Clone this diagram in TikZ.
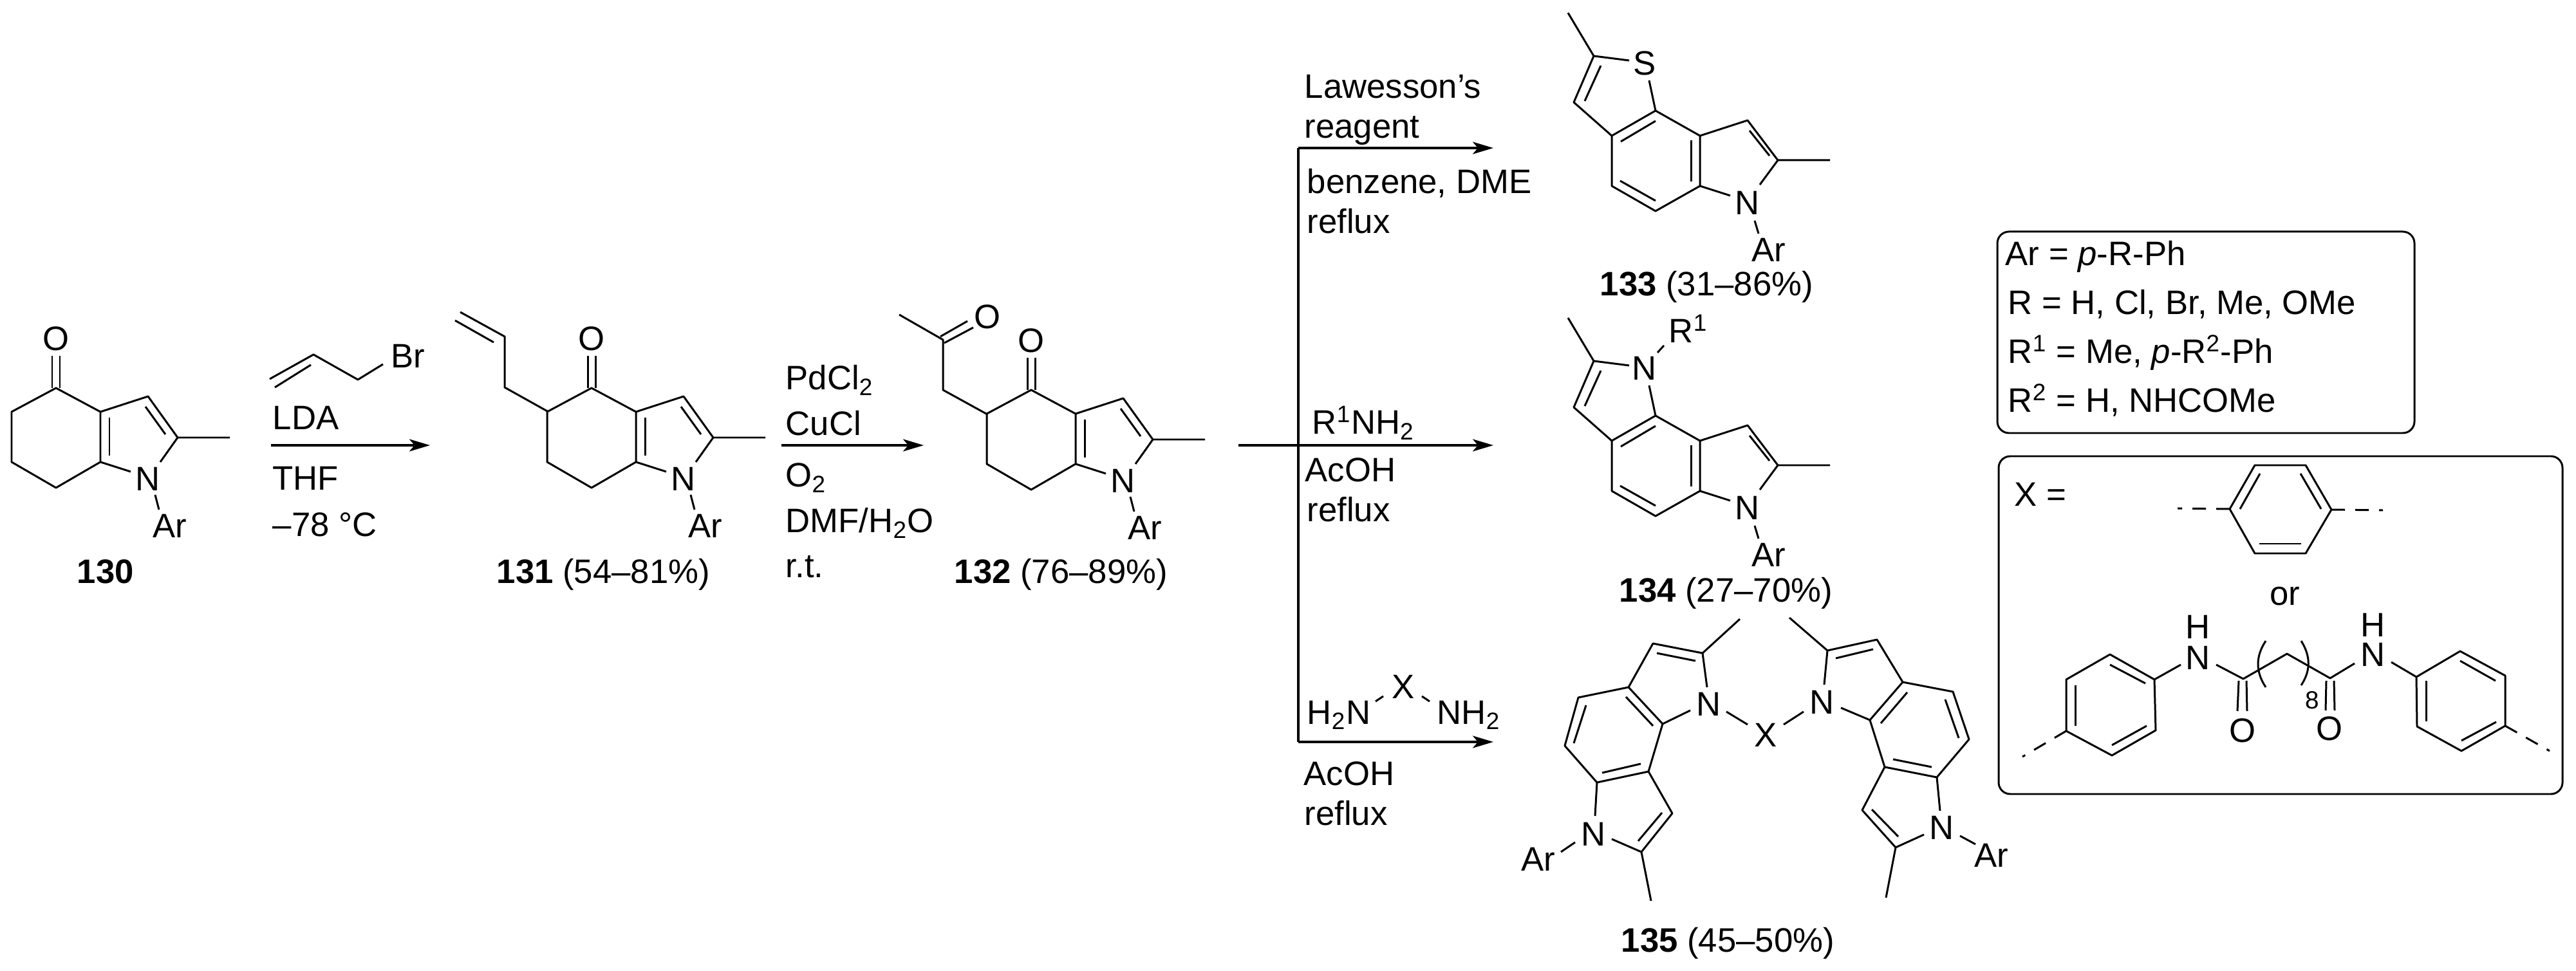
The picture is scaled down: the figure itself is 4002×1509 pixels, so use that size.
\documentclass[tikz,border=0pt]{standalone}
\usepackage{fontspec}
\setmainfont{Liberation Sans}
\usetikzlibrary{arrows.meta}
\tikzset{
  bond/.style={line width=0.85pt, line join=round},
  stub/.style={bond, dashed, dash pattern=on 2.1mm off 1.6mm},
  rxn/.style={line width=0.9pt, -{Stealth[length=3.2mm, width=1.9mm, inset=0.8mm]}},
  panel/.style={line width=0.85pt, rounded corners=1.8mm},
  atom/.style={inner sep=0pt, font=\fontsize{15}{18}\selectfont},
  txt/.style={atom, anchor=base west},
  small/.style={inner sep=0pt, font=\fontsize{11}{13}\selectfont}
}
\begin{document}
\begin{tikzpicture}[x=0.1mm, y=-0.1mm]
\useasboundingbox (0,0) rectangle (4002,1509);
% Fused ketone core of 130, 131, 132
\foreach \dx/\dy/\nm in {0/0/a, 832/0/b, 1515/3/c} {
  \begin{scope}[shift={(\dx,\dy)}]
    \draw[bond] (18,640) -- (87,603) -- (156,640) -- (156,718) -- (87,758) -- (18,718) -- cycle;
    \draw[bond] (156,640) -- (230,616) -- (276,680) -- (357,680);
    \draw[bond] (276,680) -- (249,718);
    \draw[bond] (156,718) -- (203,733);
    \draw[bond] (226,632) -- (257,675);
    \draw[bond] (170,649) -- (170,708);
    \draw[bond] (81,603) -- (81,553);
    \draw[bond] (93,603) -- (93,553);
    \draw[bond] (241,769) -- (247,792);
    \node[atom] (O\nm) at (87,526) {O};
    \node[atom] (N\nm) at (230,744) {N};
    \node[atom] (Ar\nm) at (264,817) {Ar};
  \end{scope}
}
% Allyl side chain on 131
\draw[bond] (852,640) -- (784,602) -- (784,523) -- (715,485);
\draw[bond] (707,498) -- (767,532);
% Acetonyl side chain on 132
\draw[bond] (1534,644) -- (1465,606) -- (1465,528) -- (1397,489);
\draw[bond] (1461,523) -- (1503,499);
\draw[bond] (1467,533) -- (1512,509);
\node[atom] (Oket) at (1534,492) {O};
% Allyl bromide
\draw[bond] (419,589) -- (487,551) -- (556,590) -- (595,566);
\draw[bond] (427,602) -- (483,567);
\node[atom] (Br) at (634,553) {Br};
% Thiophene and pyrrole annulated products 133, 134
\foreach \dy/\nm/\het in {0/d/S, 474/e/N} {
  \begin{scope}[shift={(0,\dy)}]
    \draw[bond] (2436,20) -- (2476,87) -- (2531,94);
    \draw[bond] (2476,87) -- (2445,159) -- (2504,211);
    \draw[bond] (2562,125) -- (2572,172);
    \draw[bond] (2504,211) -- (2572,172) -- (2641,211) -- (2641,289) -- (2572,328) -- (2504,289) -- cycle;
    \draw[bond] (2641,211) -- (2715,187) -- (2762,249) -- (2843,249);
    \draw[bond] (2762,249) -- (2734,287);
    \draw[bond] (2641,289) -- (2688,304);
    \draw[bond] (2726,343) -- (2732,363);
    \draw[bond] (2487,102) -- (2462,157);
    \draw[bond] (2572,188) -- (2518,220);
    \draw[bond] (2627,218) -- (2627,282);
    \draw[bond] (2517,281) -- (2572,312);
    \draw[bond] (2718,203) -- (2749,242);
    \node[atom] (Het\nm) at (2555,98) {\het};
    \node[atom] (N\nm) at (2715,315) {N};
    \node[atom] (Ar\nm) at (2748,388) {Ar};
  \end{scope}
}
\draw[bond] (2575,548) -- (2585,537);
\node[txt] (Rone) at (2592,533) {R\textsuperscript{1}};
% Bis product 135, left half
\draw[bond] (2703,962) -- (2645,1015) -- (2568,1000) -- (2530,1068) -- (2452,1084) -- (2431,1159) -- (2481,1216) -- (2561,1199) -- (2583,1125) -- (2530,1068);
\draw[bond] (2645,1015) -- (2652,1068);
\draw[bond] (2583,1125) -- (2626,1104);
\draw[bond] (2561,1199) -- (2598,1264) -- (2550,1324) -- (2504,1304);
\draw[bond] (2481,1216) -- (2478,1268);
\draw[bond] (2550,1324) -- (2565,1400);
\draw[bond] (2447,1309) -- (2425,1324);
\draw[bond] (2574,1015) -- (2634,1027);
\draw[bond] (2526,1083) -- (2568,1128);
\draw[bond] (2464,1096) -- (2445,1155);
\draw[bond] (2489,1201) -- (2549,1187);
\draw[bond] (2582,1263) -- (2545,1307);
\node[atom] (Nl) at (2655,1094) {N};
\node[atom] (Nll) at (2476,1296) {N};
\node[atom] (Arl) at (2390,1335) {Ar};
% Bis product 135, right half
\draw[bond] (2780,960) -- (2839,1011) -- (2916,994) -- (2956,1060) -- (3034,1075) -- (3059,1149) -- (3009,1208) -- (2928,1192) -- (2905,1119) -- (2956,1060);
\draw[bond] (2839,1011) -- (2834,1064);
\draw[bond] (2905,1119) -- (2860,1100);
\draw[bond] (2928,1192) -- (2893,1259) -- (2945,1317) -- (2989,1297);
\draw[bond] (3009,1208) -- (3014,1260);
\draw[bond] (2945,1317) -- (2930,1395);
\draw[bond] (3045,1299) -- (3069,1312);
\draw[bond] (2852,1023) -- (2910,1009);
\draw[bond] (2963,1076) -- (2922,1124);
\draw[bond] (3022,1087) -- (3043,1147);
\draw[bond] (2941,1180) -- (3001,1192);
\draw[bond] (2908,1258) -- (2949,1300);
\node[atom] (Nr) at (2831,1091) {N};
\node[atom] (Nrr) at (3017,1286) {N};
\node[atom] (Arr) at (3094,1329) {Ar};
% X bridge
\draw[bond] (2682,1106) -- (2715,1126);
\draw[bond] (2802,1106) -- (2771,1126);
\node[atom] (Xb) at (2743,1142) {X};
% Reaction arrows
\coordinate (rone) at (421,692);
\coordinate (ronee) at (668,692);
\coordinate (rtwo) at (1214,692);
\coordinate (rtwoe) at (1435,692);
\coordinate (rthree) at (1924,692);
\coordinate (junc) at (2017,692);
\coordinate (rfour) at (2320,692);
\coordinate (brtop) at (2017,230);
\coordinate (brtope) at (2320,230);
\coordinate (brbot) at (2017,1153);
\coordinate (brbote) at (2320,1153);
\draw[rxn] (rone) -- (ronee);
\draw[rxn] (rtwo) -- (rtwoe);
\draw[rxn] (rthree) -- (junc) -- (rfour);
\draw[rxn] (brtop) -- (brtope);
\draw[rxn] (brbot) -- (brbote);
\draw[line width=0.9pt] (brtop) -- (brbot);
% Reagents
\node[txt] (lda) at (423,668) {LDA};
\node[txt] (thf) at (423,762) {THF};
\node[txt] (temp) at (423,834) {–78 °C};
\node[txt] (pd) at (1220,606) {PdCl\textsubscript{2}};
\node[txt] (cu) at (1220,677) {CuCl};
\node[txt] (oxy) at (1220,757) {O\textsubscript{2}};
\node[txt] (dmf) at (1220,828) {DMF/H\textsubscript{2}O};
\node[txt] (rt) at (1220,898) {r.t.};
\node[txt] (law) at (2026,153) {Lawesson's};
\node[txt] (reag) at (2026,215) {reagent};
\node[txt] (benz) at (2030,301) {benzene, DME};
\node[txt] (refa) at (2030,363) {reflux};
\node[txt] (amine) at (2038,675) {R\textsuperscript{1}NH\textsubscript{2}};
\node[txt] (acb) at (2027,749) {AcOH};
\node[txt] (refb) at (2030,811) {reflux};
\node[txt] (dian) at (2030,1125) {H\textsubscript{2}N};
\node[txt] (dianb) at (2232,1125) {NH\textsubscript{2}};
\node[atom] (Xr) at (2180,1067) {X};
\draw[bond] (2137,1090) -- (2149,1082);
\draw[bond] (2209,1082) -- (2221,1090);
\node[txt] (acc) at (2025,1220) {AcOH};
\node[txt] (refc) at (2026,1282) {reflux};
% Compound labels
\node[txt] (lab130) at (119,907) {\textbf{130}};
\node[txt] (lab131) at (771,907) {\textbf{131} (54–81\%)};
\node[txt] (lab132) at (1482,907) {\textbf{132} (76–89\%)};
\node[txt] (lab133) at (2485,460) {\textbf{133} (31–86\%)};
\node[txt] (lab134) at (2515,935) {\textbf{134} (27–70\%)};
\node[txt] (lab135) at (2518,1479) {\textbf{135} (45–50\%)};
% Substituent box
\draw[panel] (3103,360) rectangle (3751,673);
\node[txt] (subA) at (3115,413) {Ar = \textit{p}-R-Ph};
\node[txt] (subB) at (3119,489) {R = H, Cl, Br, Me, OMe};
\node[txt] (subC) at (3119,565) {R\textsuperscript{1} = Me, \textit{p}-R\textsuperscript{2}-Ph};
\node[txt] (subD) at (3119,641) {R\textsuperscript{2} = H, NHCOMe};
% Linker box
\draw[panel] (3105,709) rectangle (3981,1234);
\node[txt] (xeq) at (3129,787) {X =};
\node[txt, anchor=base] (orw) at (3550,941) {or};
\draw[bond] (3464,791) -- (3503,723) -- (3582,723) -- (3622,792) -- (3582,860) -- (3503,860) -- cycle;
\draw[bond] (3511,736) -- (3480,791);
\draw[bond] (3574,736) -- (3606,791);
\draw[bond] (3510,845) -- (3575,845);
\draw[stub] (3464,791) -- (3383,790);
\draw[stub] (3622,792) -- (3702,793);
% Diamide linker
\draw[bond] (3210,1056) -- (3278,1017) -- (3347,1056) -- (3349,1135) -- (3281,1174) -- (3210,1136) -- cycle;
\draw[bond] (3278,1033) -- (3333,1062);
\draw[bond] (3224,1065) -- (3224,1128);
\draw[bond] (3281,1158) -- (3335,1128);
\draw[stub] (3210,1136) -- (3142,1176);
\draw[bond] (3347,1056) -- (3388,1033);
\draw[bond] (3443,1033) -- (3485,1055) -- (3553,1016) -- (3620,1054) -- (3658,1031);
\draw[bond] (3478,1058) -- (3476,1105);
\draw[bond] (3490,1058) -- (3491,1105);
\draw[bond] (3614,1058) -- (3613,1104);
\draw[bond] (3626,1058) -- (3627,1104);
\draw[bond] (3520,996) .. controls (3504,1020) and (3504,1044) .. (3520,1068);
\draw[bond] (3575,996) .. controls (3590,1020) and (3590,1042) .. (3575,1065);
\draw[bond] (3715,1029) -- (3754,1052);
\draw[bond] (3754,1052) -- (3822,1012) -- (3892,1050) -- (3892,1128) -- (3824,1167) -- (3755,1129) -- cycle;
\draw[bond] (3822,1027) -- (3877,1058);
\draw[bond] (3769,1058) -- (3769,1121);
\draw[bond] (3824,1151) -- (3878,1122);
\draw[stub] (3892,1128) -- (3961,1167);
\node[atom] (Hl) at (3415,974) {H};
\node[atom] (Nam) at (3415,1022) {N};
\node[atom] (Ol) at (3484,1135) {O};
\node[atom] (Orr) at (3619,1132) {O};
\node[small] (eight) at (3592,1088) {8};
\node[atom] (Hr) at (3686,971) {H};
\node[atom] (Nbm) at (3686,1017) {N};
\end{tikzpicture}
\end{document}
